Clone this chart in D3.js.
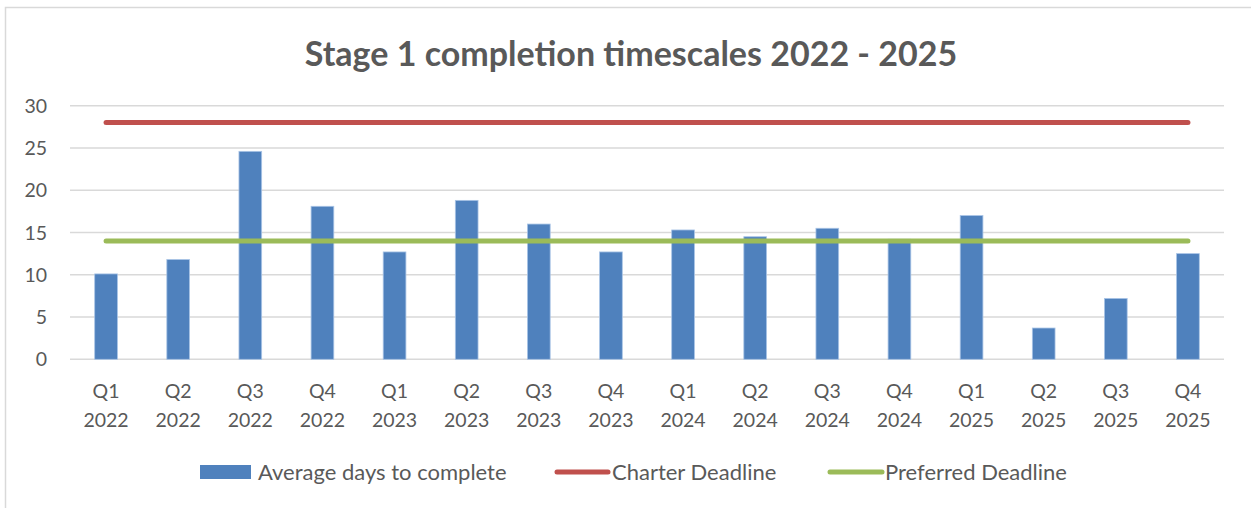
<!DOCTYPE html>
<html>
<head>
<meta charset="utf-8">
<script src="https://cdn.jsdelivr.net/npm/d3@7"></script>
<style>
  body { margin: 0; background: #fff; }
  svg { display: block; font-family: Lato, "Open Sans", sans-serif; }
</style>
</head>
<body>
<svg></svg>
<script>
var width = 1251;
var height = 508;

// data
var quarters = ["Q1 2022", "Q2 2022", "Q3 2022", "Q4 2022",
                "Q1 2023", "Q2 2023", "Q3 2023", "Q4 2023",
                "Q1 2024", "Q2 2024", "Q3 2024", "Q4 2024",
                "Q1 2025", "Q2 2025", "Q3 2025", "Q4 2025"];
var avgDays = [10.1, 11.8, 24.6, 18.1, 12.7, 18.8, 16.0, 12.7,
               15.3, 14.5, 15.5, 14.2, 17.0, 3.7, 7.2, 12.5];
var charterDeadline = 28;
var preferredDeadline = 14;
var yTicks = [0, 5, 10, 15, 20, 25, 30];
var seriesNames = ["Average days to complete", "Charter Deadline", "Preferred Deadline"];

var textColor = "#595959";
var svg = d3.select("svg");
svg.attr('width', width).attr('height', height);

// chart frame
svg.append('rect')
  .attr('x', 5.5).attr('y', 7.5)
  .attr('width', 1400).attr('height', 600)
  .attr('fill', 'none')
  .attr('stroke', '#d9d9d9')
  .attr('stroke-width', 1.5);

var xScale = d3.scaleBand()
  .domain(quarters)
  .range([70, 1224])
  .paddingInner(0.685)
  .paddingOuter(0.3425);

var yScale = d3.scaleLinear()
  .domain([0, 30])
  .range([359.3, 105.7]);

// gridlines
svg.selectAll('line.grid')
  .data(yTicks)
  .enter()
  .append('line')
  .attr('class', 'grid')
  .attr('x1', 70).attr('x2', 1224)
  .attr('y1', function(d) { return yScale(d); })
  .attr('y2', function(d) { return yScale(d); })
  .attr('stroke', '#d9d9d9')
  .attr('stroke-width', 1.5);

// y tick labels
svg.selectAll('text.ytick')
  .data(yTicks)
  .enter()
  .append('text')
  .attr('class', 'ytick')
  .attr('x', 47)
  .attr('y', function(d) { return yScale(d) + 7; })
  .attr('text-anchor', 'end')
  .attr('font-size', 19.5)
  .attr('fill', textColor)
  .text(function(d) { return d; });

// bars
svg.selectAll('rect.bar')
  .data(avgDays)
  .enter()
  .append('rect')
  .attr('class', 'bar')
  .attr('x', function(d, i) { return xScale(quarters[i]); })
  .attr('y', function(d) { return yScale(d); })
  .attr('width', xScale.bandwidth())
  .attr('height', function(d) { return yScale(0) - yScale(d); })
  .attr('fill', '#4f81bd')
  .attr('stroke', '#a9c4e6')
  .attr('stroke-width', 0.8);

// deadline lines
var firstX = xScale(quarters[0]) + xScale.bandwidth() / 2;
var lastX = xScale(quarters[quarters.length - 1]) + xScale.bandwidth() / 2;
[[charterDeadline, '#c0504d'], [preferredDeadline, '#9bbb59']].forEach(function(l) {
  svg.append('line')
    .attr('x1', firstX).attr('x2', lastX)
    .attr('y1', yScale(l[0])).attr('y2', yScale(l[0]))
    .attr('stroke', l[1])
    .attr('stroke-width', 5)
    .attr('stroke-linecap', 'round');
});

// x labels
var xLabels = svg.selectAll('text.xtick')
  .data(quarters)
  .enter()
  .append('text')
  .attr('class', 'xtick')
  .attr('text-anchor', 'middle')
  .attr('font-size', 19.5)
  .attr('fill', textColor);
xLabels.append('tspan')
  .attr('x', function(d) { return xScale(d) + xScale.bandwidth() / 2; })
  .attr('y', 398)
  .text(function(d) { return d.split(' ')[0]; });
xLabels.append('tspan')
  .attr('x', function(d) { return xScale(d) + xScale.bandwidth() / 2; })
  .attr('y', 427)
  .text(function(d) { return d.split(' ')[1]; });

// title
svg.append('text')
  .attr('x', 631)
  .attr('y', 66)
  .attr('text-anchor', 'middle')
  .attr('font-size', 34)
  .attr('font-weight', 'bold')
  .attr('fill', textColor)
  .text('Stage 1 completion timescales 2022 - 2025');

// legend
var legY = 472;
svg.append('rect')
  .attr('x', 200).attr('y', legY - 7)
  .attr('width', 51).attr('height', 14)
  .attr('fill', '#4f81bd');
svg.append('line')
  .attr('x1', 557).attr('x2', 608)
  .attr('y1', legY).attr('y2', legY)
  .attr('stroke', '#c0504d').attr('stroke-width', 5)
  .attr('stroke-linecap', 'round');
svg.append('line')
  .attr('x1', 830).attr('x2', 882)
  .attr('y1', legY).attr('y2', legY)
  .attr('stroke', '#9bbb59').attr('stroke-width', 5)
  .attr('stroke-linecap', 'round');
var legX = [258, 612, 885];
svg.selectAll('text.leg')
  .data(seriesNames)
  .enter()
  .append('text')
  .attr('class', 'leg')
  .attr('x', function(d, i) { return legX[i]; })
  .attr('y', legY + 8)
  .attr('font-size', 22)
  .attr('fill', textColor)
  .text(function(d) { return d; });
</script>
</body>
</html>
